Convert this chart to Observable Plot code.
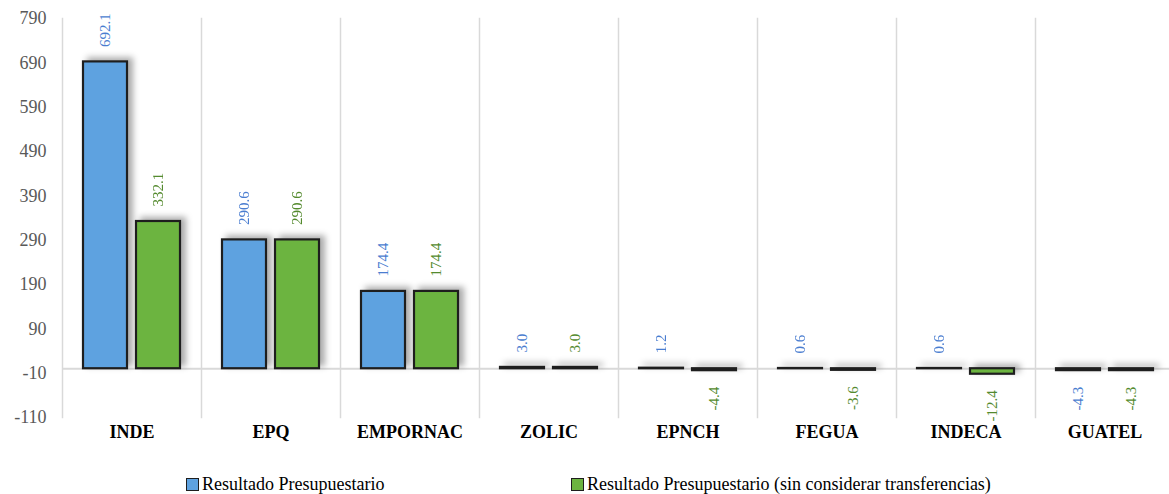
<!DOCTYPE html>
<html><head><meta charset="utf-8">
<script src="https://cdn.jsdelivr.net/npm/d3@7"></script>
<script src="https://cdn.jsdelivr.net/npm/@observablehq/plot@0.6"></script>
<style>
body{margin:0;background:#fff;font-family:"Liberation Serif","Times New Roman",serif;}
#chart{position:relative;width:1169px;height:494px;overflow:hidden;background:#fff;}
.legend{position:absolute;top:474px;left:0;width:1169px;height:20px;font-size:18px;line-height:20px;color:#000;}
.item{position:absolute;top:0;white-space:nowrap;display:flex;align-items:center;}
.sw{display:inline-block;width:11px;height:11px;border:1px solid #1e1e1e;margin-right:3px;}
g[aria-label="bar"]{filter: drop-shadow(5px -3px 3px rgba(0,0,0,0.33));}
</style></head>
<body><div id="chart"></div>
<script>
const categories = ["INDE", "EPQ", "EMPORNAC", "ZOLIC", "EPNCH", "FEGUA", "INDECA", "GUATEL"];
const series = ["Resultado Presupuestario", "Resultado Presupuestario (sin considerar transferencias)"];
const resultado = [692.1, 290.6, 174.4, 3.0, 1.2, 0.6, 0.6, -4.3];
const sinTransferencias = [332.1, 290.6, 174.4, 3.0, -4.4, -3.6, -12.4, -4.3];
const yTicks = [-110, -10, 90, 190, 290, 390, 490, 590, 690, 790];
const barColors = ["#5ea2e0", "#6cb440"];
const labelColors = ["#4a7dd0", "#548a2e"];

const rows = categories.flatMap((c, i) => [
  {cat: c, serie: series[0], value: resultado[i], bar: barColors[0], label: labelColors[0]},
  {cat: c, serie: series[1], value: sinTransferencias[i], bar: barColors[1], label: labelColors[1]}
]);

const plot = Plot.plot({
  width: 1169, height: 474,
  marginTop: 18, marginBottom: 57, marginLeft: 60, marginRight: 0,
  style: {fontFamily: "'Liberation Serif', serif", fontSize: "18px", color: "#595959", background: "#fff", overflow: "hidden"},
  fx: {domain: categories, range: [60, 1175], padding: 0, axis: null, label: null},
  x: {domain: series, paddingInner: 0.17, paddingOuter: 0.38, axis: null},
  y: {domain: [-110, 790], ticks: yTicks, tickSize: 0, tickPadding: 16, label: null, tickFormat: d => String(d)},
  color: {type: "identity"},
  marks: [
    Plot.frame({anchor: "left", stroke: "#d9d9d9", strokeWidth: 1.5}),
    Plot.ruleY([0], {stroke: "#d9d9d9", strokeWidth: 2}),
    Plot.barY(rows, {fx: "cat", x: "serie", y1: 0, y2: "value", fill: "bar", stroke: "#1e1e1e", strokeWidth: 2.2}),
    Plot.text(rows.filter(d => d.value >= 0), {fx: "cat", x: "serie", y: "value", text: d => d.value.toFixed(1), rotate: -90, textAnchor: "start", dy: -15, fill: "label", fontSize: 15}),
    Plot.text(rows.filter(d => d.value < 0), {fx: "cat", x: "serie", y: "value", text: d => d.value.toFixed(1), rotate: -90, textAnchor: "end", dy: 16, fill: "label", fontSize: 15}),
    Plot.text(categories, {fx: d => d, text: d => d, frameAnchor: "bottom", dy: 20, fill: "#000", fontWeight: "bold", fontSize: 18, fontFamily: "'Liberation Serif', serif"})
  ]
});
const chart = document.getElementById("chart");
chart.appendChild(plot);

const legend = document.createElement("div");
legend.className = "legend";
const lefts = [186, 571];
series.forEach((s, i) => {
  const it = document.createElement("div");
  it.className = "item";
  it.style.left = lefts[i] + "px";
  const sw = document.createElement("span");
  sw.className = "sw";
  sw.style.background = barColors[i];
  it.appendChild(sw);
  it.appendChild(document.createTextNode(s));
  legend.appendChild(it);
});
chart.appendChild(legend);
</script>
</body></html>
